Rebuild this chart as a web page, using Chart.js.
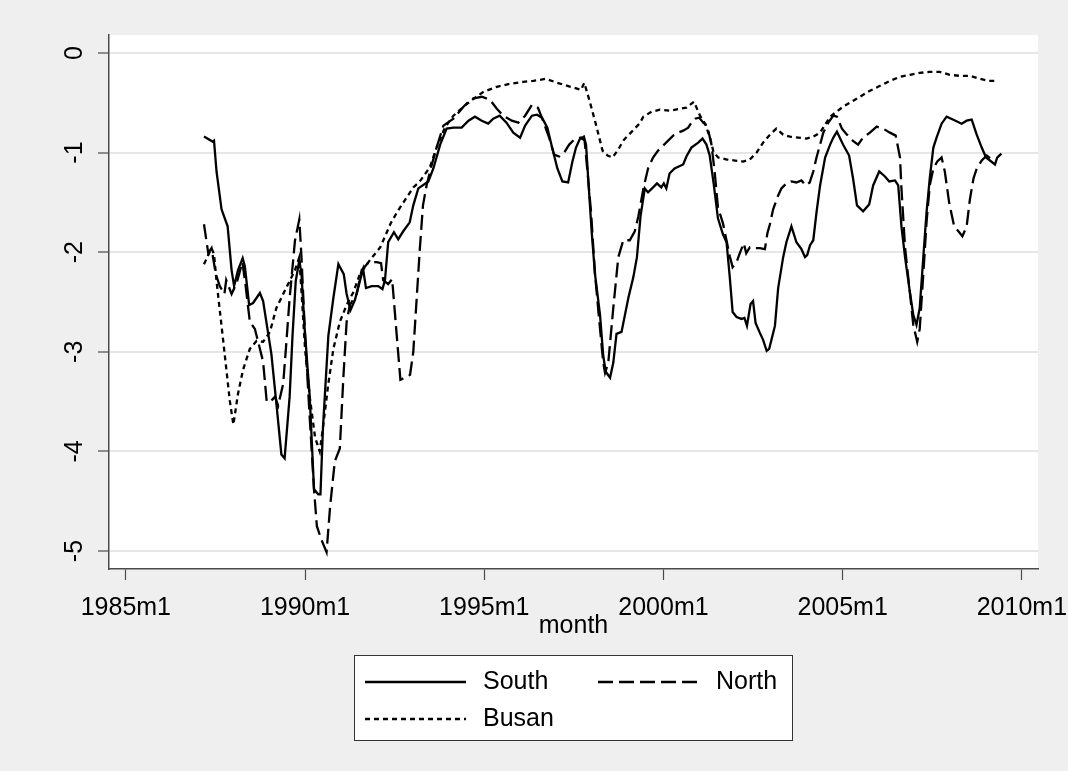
<!DOCTYPE html>
<html lang="en">
<head>
<meta charset="UTF-8">
<title>South / North / Busan</title>
<script src="https://cdn.jsdelivr.net/npm/chart.js@4"></script>
<style>
  html, body { margin: 0; padding: 0; background: #efefef; }
  #wrap { width: 1068px; height: 771px; position: relative; }
</style>
</head>
<body>
<div id="wrap"><canvas id="chart"></canvas></div>
<script>
// time as decimal years (1987m3 ~ 1987.17)
const southT = [1987.18, 1987.42, 1987.46, 1987.53, 1987.67, 1987.84, 1987.95, 1988.02, 1988.13, 1988.26,
  1988.32, 1988.44, 1988.55, 1988.74, 1988.83, 1989.06, 1989.20, 1989.34, 1989.43, 1989.57,
  1989.65, 1989.74, 1989.84, 1989.90, 1989.99, 1990.13, 1990.25, 1990.37, 1990.43, 1990.50,
  1990.65, 1990.79, 1990.93, 1991.08, 1991.16, 1991.27, 1991.39, 1991.48, 1991.58, 1991.62,
  1991.70, 1991.86, 1992.04, 1992.16, 1992.23, 1992.32, 1992.48, 1992.60, 1992.74, 1992.92,
  1993.02, 1993.16, 1993.44, 1993.58, 1993.77, 1993.95, 1994.14, 1994.37, 1994.56, 1994.74,
  1994.93, 1995.11, 1995.25, 1995.43, 1995.62, 1995.81, 1996.00, 1996.14, 1996.33, 1996.47,
  1996.61, 1996.76, 1996.90, 1997.04, 1997.18, 1997.34, 1997.46, 1997.56, 1997.66, 1997.78,
  1997.84, 1997.90, 1998.00, 1998.09, 1998.23, 1998.32, 1998.39, 1998.51, 1998.60, 1998.69,
  1998.83, 1999.02, 1999.16, 1999.26, 1999.36, 1999.48, 1999.57, 1999.71, 1999.82, 1999.94,
  2000.01, 2000.08, 2000.17, 2000.31, 2000.55, 2000.64, 2000.78, 2000.97, 2001.09, 2001.20,
  2001.29, 2001.40, 2001.52, 2001.66, 2001.76, 2001.85, 2001.93, 2002.04, 2002.18, 2002.26,
  2002.33, 2002.43, 2002.50, 2002.57, 2002.69, 2002.78, 2002.88, 2002.95, 2003.11, 2003.20,
  2003.34, 2003.43, 2003.57, 2003.71, 2003.85, 2003.95, 2004.01, 2004.09, 2004.18, 2004.27,
  2004.37, 2004.51, 2004.65, 2004.74, 2004.84, 2005.01, 2005.18, 2005.29, 2005.40, 2005.57,
  2005.74, 2005.85, 2006.02, 2006.18, 2006.30, 2006.46, 2006.55, 2006.64, 2006.74, 2006.86,
  2006.97, 2007.06, 2007.15, 2007.25, 2007.34, 2007.43, 2007.53, 2007.62, 2007.76, 2007.90,
  2008.09, 2008.32, 2008.46, 2008.60, 2008.74, 2008.88, 2009.00, 2009.11, 2009.25, 2009.31,
  2009.43];
const southV = [-0.84, -0.89, -0.88, -1.19, -1.57, -1.74, -2.18, -2.34, -2.18, -2.06,
  -2.14, -2.53, -2.51, -2.41, -2.49, -3.02, -3.52, -4.03, -4.07, -3.45,
  -2.84, -2.29, -2.08, -2.22, -2.77, -3.45, -4.38, -4.43, -4.43, -3.76,
  -2.84, -2.46, -2.12, -2.22, -2.42, -2.58, -2.48, -2.36, -2.22, -2.17,
  -2.36, -2.34, -2.34, -2.37, -2.28, -1.90, -1.80, -1.87, -1.79, -1.70,
  -1.53, -1.36, -1.29, -1.16, -0.92, -0.76, -0.75, -0.75, -0.68, -0.64,
  -0.68, -0.71, -0.66, -0.63, -0.70, -0.80, -0.85, -0.73, -0.63, -0.62,
  -0.65, -0.75, -0.96, -1.16, -1.29, -1.30, -1.09, -0.95, -0.87, -0.84,
  -0.92, -1.26, -1.81, -2.22, -2.63, -3.04, -3.20, -3.26, -3.11, -2.82,
  -2.80, -2.46, -2.25, -2.05, -1.64, -1.36, -1.40, -1.35, -1.31, -1.35,
  -1.31, -1.36, -1.21, -1.16, -1.12, -1.04, -0.95, -0.90, -0.86, -0.92,
  -1.03, -1.31, -1.66, -1.82, -1.90, -2.25, -2.60, -2.65, -2.67, -2.66,
  -2.74, -2.52, -2.49, -2.71, -2.81, -2.88, -2.99, -2.97, -2.74, -2.36,
  -2.05, -1.90, -1.74, -1.90, -1.97, -2.05, -2.03, -1.93, -1.88, -1.60,
  -1.33, -1.05, -0.92, -0.85, -0.79, -0.92, -1.03, -1.26, -1.53, -1.59,
  -1.52, -1.33, -1.19, -1.24, -1.29, -1.28, -1.33, -1.74, -2.05, -2.36,
  -2.63, -2.73, -2.56, -2.05, -1.60, -1.26, -0.95, -0.85, -0.71, -0.64,
  -0.67, -0.71, -0.68, -0.67, -0.82, -0.95, -1.05, -1.08, -1.12, -1.05,
  -1.01];

const northT = [1987.18, 1987.30, 1987.39, 1987.51, 1987.62, 1987.75, 1987.80, 1987.95, 1988.10, 1988.25,
  1988.33, 1988.46, 1988.60, 1988.74, 1988.83, 1988.93, 1989.04, 1989.16, 1989.25, 1989.39,
  1989.48, 1989.57, 1989.72, 1989.84, 1989.90, 1990.00, 1990.13, 1990.25, 1990.33, 1990.46,
  1990.60, 1990.70, 1990.83, 1990.97, 1991.07, 1991.16, 1991.25, 1991.44, 1991.58, 1991.68,
  1991.77, 1992.00, 1992.12, 1992.18, 1992.32, 1992.43, 1992.55, 1992.66, 1992.78, 1992.93,
  1993.02, 1993.11, 1993.20, 1993.29, 1993.39, 1993.53, 1993.67, 1993.86, 1994.14, 1994.42,
  1994.65, 1994.93, 1995.16, 1995.35, 1995.53, 1995.77, 1995.95, 1996.14, 1996.33, 1996.50,
  1996.67, 1996.81, 1996.95, 1997.09, 1997.23, 1997.37, 1997.51, 1997.70, 1997.80, 1997.88,
  1997.98, 1998.09, 1998.23, 1998.32, 1998.37, 1998.46, 1998.60, 1998.74, 1998.88, 1999.06,
  1999.20, 1999.30, 1999.44, 1999.57, 1999.71, 1999.85, 1999.99, 2000.13, 2000.27, 2000.41,
  2000.55, 2000.69, 2000.78, 2000.88, 2001.00, 2001.11, 2001.22, 2001.34, 2001.43, 2001.52,
  2001.66, 2001.77, 2001.85, 2001.93, 2002.04, 2002.13, 2002.24, 2002.31, 2002.41, 2002.55,
  2002.69, 2002.83, 2002.90, 2002.97, 2003.06, 2003.20, 2003.29, 2003.43, 2003.57, 2003.71,
  2003.85, 2003.97, 2004.08, 2004.18, 2004.27, 2004.37, 2004.46, 2004.60, 2004.74, 2004.84,
  2004.98, 2005.12, 2005.28, 2005.43, 2005.57, 2005.76, 2005.95, 2006.13, 2006.32, 2006.48,
  2006.60, 2006.64, 2006.74, 2006.88, 2006.97, 2007.08, 2007.15, 2007.25, 2007.34, 2007.43,
  2007.53, 2007.64, 2007.76, 2007.85, 2007.97, 2008.11, 2008.23, 2008.34, 2008.46, 2008.55,
  2008.65, 2008.74, 2008.88, 2009.02, 2009.16];
const northV = [-1.72, -2.01, -1.96, -2.22, -2.34, -2.42, -2.28, -2.42, -2.30, -2.10,
  -2.30, -2.70, -2.77, -2.97, -3.10, -3.50, -3.50, -3.45, -3.54, -3.32,
  -2.90, -2.46, -1.88, -1.67, -2.05, -2.84, -3.66, -4.38, -4.75, -4.89,
  -5.01, -4.55, -4.10, -3.97, -3.25, -2.70, -2.53, -2.42, -2.18, -2.14,
  -2.10, -2.10, -2.11, -2.28, -2.32, -2.27, -2.80, -3.28, -3.26, -3.23,
  -3.00, -2.49, -1.98, -1.53, -1.33, -1.13, -0.95, -0.73, -0.66, -0.54,
  -0.46, -0.44, -0.47, -0.56, -0.63, -0.68, -0.70, -0.63, -0.52, -0.55,
  -0.71, -0.85, -1.02, -1.04, -1.00, -0.92, -0.87, -0.85, -0.88, -1.19,
  -1.60, -2.22, -2.77, -3.11, -3.21, -3.11, -2.56, -2.05, -1.88, -1.88,
  -1.79, -1.64, -1.36, -1.16, -1.05, -0.98, -0.93, -0.88, -0.83, -0.80,
  -0.78, -0.75, -0.70, -0.66, -0.65, -0.70, -0.73, -0.92, -1.20, -1.55,
  -1.71, -1.90, -2.04, -2.15, -2.10, -2.01, -1.91, -2.01, -1.95, -1.96,
  -1.96, -1.97, -1.81, -1.72, -1.57, -1.43, -1.36, -1.31, -1.29, -1.30,
  -1.28, -1.33, -1.30, -1.19, -1.05, -0.92, -0.80, -0.70, -0.63, -0.64,
  -0.76, -0.82, -0.88, -0.92, -0.85, -0.80, -0.74, -0.76, -0.80, -0.83,
  -1.05, -1.36, -1.95, -2.42, -2.73, -2.90, -2.77, -2.22, -1.70, -1.33,
  -1.16, -1.09, -1.05, -1.19, -1.50, -1.74, -1.79, -1.84, -1.74, -1.47,
  -1.26, -1.16, -1.08, -1.03, -1.07];

const busanT = [1987.18, 1987.39, 1987.46, 1987.53, 1987.72, 1987.90, 1988.00, 1988.13, 1988.27, 1988.46,
  1988.65, 1988.83, 1989.02, 1989.20, 1989.39, 1989.57, 1989.72, 1989.84, 1989.90, 1990.00,
  1990.13, 1990.28, 1990.41, 1990.50, 1990.65, 1990.79, 1990.97, 1991.16, 1991.35, 1991.53,
  1991.81, 1992.10, 1992.39, 1992.58, 1992.80, 1993.02, 1993.20, 1993.48, 1993.67, 1993.90,
  1994.14, 1994.42, 1994.70, 1994.98, 1995.35, 1995.72, 1996.09, 1996.37, 1996.72, 1997.04,
  1997.41, 1997.70, 1997.79, 1997.93, 1998.11, 1998.30, 1998.44, 1998.58, 1998.72, 1998.90,
  1999.09, 1999.33, 1999.44, 1999.67, 1999.90, 2000.18, 2000.46, 2000.64, 2000.85, 2001.02,
  2001.16, 2001.30, 2001.40, 2001.53, 2001.77, 2002.00, 2002.23, 2002.41, 2002.60, 2002.78,
  2002.97, 2003.15, 2003.34, 2003.53, 2003.76, 2003.99, 2004.18, 2004.37, 2004.51, 2004.65,
  2004.83, 2005.01, 2005.25, 2005.48, 2005.76, 2006.04, 2006.32, 2006.60, 2006.88, 2007.15,
  2007.43, 2007.71, 2007.99, 2008.27, 2008.55, 2008.83, 2009.06, 2009.30];
const busanV = [-2.12, -1.96, -2.02, -2.29, -2.90, -3.49, -3.73, -3.42, -3.18, -2.97,
  -2.89, -2.90, -2.80, -2.56, -2.42, -2.29, -2.18, -2.05, -2.39, -2.97,
  -3.45, -3.86, -4.00, -3.76, -3.32, -2.97, -2.70, -2.53, -2.40, -2.22,
  -2.08, -1.95, -1.71, -1.59, -1.47, -1.35, -1.29, -1.15, -0.95, -0.75,
  -0.63, -0.54, -0.46, -0.39, -0.34, -0.31, -0.29, -0.28, -0.26, -0.30,
  -0.34, -0.37, -0.30, -0.47, -0.71, -0.98, -1.03, -1.05, -0.98, -0.87,
  -0.80, -0.71, -0.64, -0.59, -0.57, -0.58, -0.56, -0.55, -0.49, -0.63,
  -0.71, -0.85, -1.00, -1.05, -1.07, -1.08, -1.09, -1.07, -1.00, -0.90,
  -0.82, -0.76, -0.82, -0.84, -0.85, -0.86, -0.84, -0.80, -0.72, -0.64,
  -0.59, -0.54, -0.49, -0.44, -0.38, -0.33, -0.28, -0.24, -0.22, -0.20,
  -0.19, -0.19, -0.22, -0.23, -0.23, -0.26, -0.28, -0.28];

const xTickValues = [1985, 1990, 1995, 2000, 2005, 2010];
const xTickLabels = ['1985m1', '1990m1', '1995m1', '2000m1', '2005m1', '2010m1'];
const yTickValues = [0, -1, -2, -3, -4, -5];
const yTickLabels = ['0', '-1', '-2', '-3', '-4', '-5'];

const FONT = '"Liberation Sans", Arial, sans-serif';
const axisColor = '#4a4a4a';

function toPoints(t, v) {
  return t.map((x, i) => ({ x: x, y: v[i] }));
}

Chart.defaults.font.family = FONT;
Chart.defaults.color = '#000';

// grey graph region, white plot region
const plotBg = {
  id: 'plotBg',
  beforeDraw(chart) {
    const { ctx, chartArea: a } = chart;
    ctx.save();
    ctx.fillStyle = '#efefef';
    ctx.fillRect(0, 0, chart.width, chart.height);
    ctx.fillStyle = '#ffffff';
    ctx.fillRect(a.left, a.top, a.right - a.left, a.bottom - a.top);
    ctx.restore();
  }
};

// y labels turned 90 degrees, like stata does
const yLabels = {
  id: 'yLabels',
  afterDraw(chart) {
    const ctx = chart.ctx;
    const ys = chart.scales.y;
    ctx.save();
    ctx.font = '25px ' + FONT;
    ctx.fillStyle = '#000';
    ctx.textAlign = 'center';
    ctx.textBaseline = 'middle';
    yTickValues.forEach((v, i) => {
      ctx.save();
      ctx.translate(75, ys.getPixelForValue(v));
      ctx.rotate(-Math.PI / 2);
      ctx.fillText(yTickLabels[i], 0, 0);
      ctx.restore();
    });
    ctx.restore();
  }
};

// boxed legend, two columns
const boxLegend = {
  id: 'boxLegend',
  afterDraw(chart) {
    const ctx = chart.ctx;
    const slots = [[365, 682], [598, 682], [365, 719]];
    ctx.save();
    ctx.fillStyle = '#ffffff';
    ctx.fillRect(354.5, 655.5, 438, 85);
    ctx.strokeStyle = '#333333';
    ctx.lineWidth = 1;
    ctx.strokeRect(354.5, 655.5, 438, 85);
    chart.data.datasets.forEach((ds, i) => {
      const [x, y] = slots[i];
      ctx.strokeStyle = ds.borderColor;
      ctx.lineWidth = ds.borderWidth;
      ctx.setLineDash(ds.borderDash || []);
      ctx.beginPath();
      ctx.moveTo(x, y);
      ctx.lineTo(x + 101, y);
      ctx.stroke();
      ctx.setLineDash([]);
      ctx.fillStyle = '#000';
      ctx.font = '25px ' + FONT;
      ctx.textAlign = 'left';
      ctx.textBaseline = 'middle';
      ctx.fillText(ds.label, x + 118, y);
    });
    ctx.restore();
  }
};

new Chart(document.getElementById('chart'), {
  type: 'line',
  data: {
    datasets: [
      { label: 'South', data: toPoints(southT, southV), borderColor: '#000', borderWidth: 2.3, borderDash: [] },
      { label: 'North', data: toPoints(northT, northV), borderColor: '#000', borderWidth: 2.3, borderDash: [15, 6] },
      { label: 'Busan', data: toPoints(busanT, busanV), borderColor: '#000', borderWidth: 2.3, borderDash: [5, 4] }
    ]
  },
  options: {
    responsive: true,
    maintainAspectRatio: false,
    animation: false,
    layout: { padding: { top: 35, right: 30, bottom: 130, left: 0 } },
    elements: { point: { radius: 0 }, line: { tension: 0, fill: false } },
    plugins: { legend: { display: false }, tooltip: { enabled: false } },
    scales: {
      x: {
        type: 'linear',
        min: 1984.53,
        max: 2010.45,
        border: { display: true, color: axisColor, width: 1.5 },
        grid: { display: true, drawOnChartArea: false, drawTicks: true, tickLength: 11, tickColor: axisColor, tickWidth: 1.2 },
        ticks: {
          autoSkip: false, maxRotation: 0, minRotation: 0, padding: 13,
          font: { size: 25, lineHeight: 1.2 },
          callback: (v) => xTickLabels[xTickValues.indexOf(v)] || ''
        },
        afterBuildTicks: (s) => { s.ticks = xTickValues.map(v => ({ value: v })); },
        afterFit: (s) => { s.height = 72; s.paddingLeft = 0; s.paddingRight = 0; },
        title: { display: true, text: 'month', font: { size: 25, lineHeight: 1.2 }, padding: 0 }
      },
      y: {
        type: 'linear',
        min: -5.18,
        max: 0.18,
        border: { display: true, color: axisColor, width: 1.5 },
        grid: { color: '#e6e6e6', lineWidth: 2, drawTicks: true, tickLength: 11, tickColor: axisColor, tickWidth: 1.2 },
        ticks: { display: false },
        afterBuildTicks: (s) => { s.ticks = yTickValues.map(v => ({ value: v })); },
        afterFit: (s) => { s.width = 109; }
      }
    }
  },
  plugins: [plotBg, yLabels, boxLegend]
});
</script>
</body>
</html>
